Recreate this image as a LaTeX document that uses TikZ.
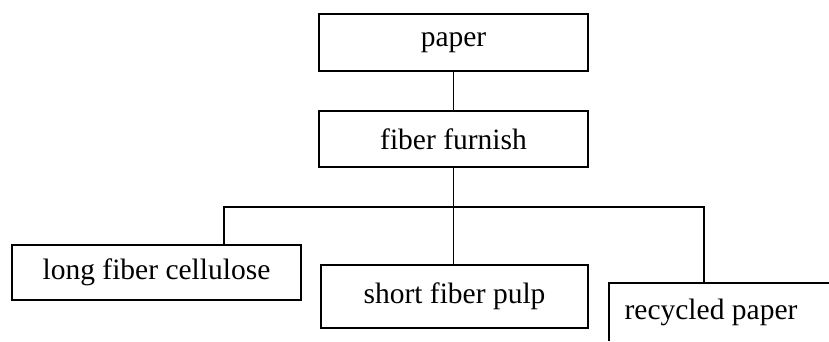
\documentclass[tikz,border=0pt]{standalone}
\usepackage{fontspec}
\setmainfont{Liberation Serif}
\begin{document}
\begin{tikzpicture}[x=1pt,y=-1pt,
  line width=1.5pt,
  every node/.style={font=\fontsize{29.5}{35}\selectfont, inner sep=0pt},
  box/.style={draw, rectangle}]
\useasboundingbox (0,0) rectangle (829,341);
% hierarchy boxes
\node[box, minimum width=269pt, minimum height=57pt] (paper) at (453.5,42.5) {paper};
\node[box, minimum width=269pt, minimum height=56pt] (furnish) at (453.5,139) {fiber furnish};
\node[box, minimum width=289pt, minimum height=55pt] (long) at (156.5,272.5) {long fiber cellulose};
\node[box, minimum width=267pt, minimum height=63pt] (short) at (454.5,296.5) {short fiber pulp};
% the last box runs past the edge of the page
\node (recycled) at (711,312) {recycled paper};
\coordinate (recnw) at (609,283);
\coordinate (recne) at (829,283);
\coordinate (recsw) at (609,341);
\draw (recne) -- (recnw) -- (recsw);
% branch bar
\coordinate (barL) at (224,207);
\coordinate (barR) at (704,207);
\draw (paper.south) -- (furnish.north);
\draw (furnish.south) -- (furnish.south |- barL);
\draw (barL |- long.north) -- (barL) -- (barR) -- (barR |- recnw);
\draw (short.north -| furnish.south) -- (furnish.south |- barL);
\end{tikzpicture}
\end{document}
